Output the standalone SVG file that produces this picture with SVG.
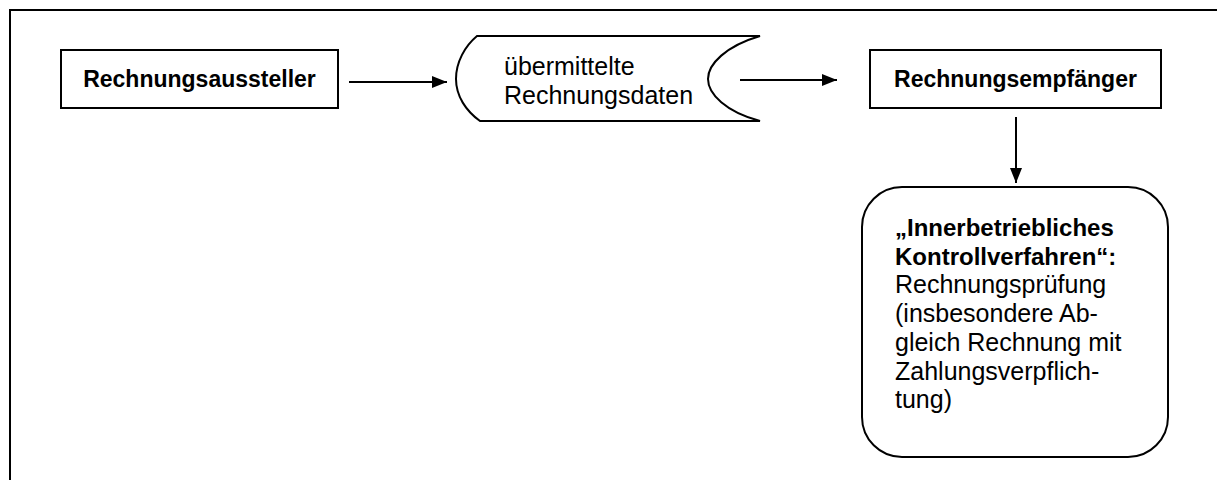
<svg xmlns="http://www.w3.org/2000/svg" width="1217" height="480" viewBox="0 0 1217 480">
  <style>
    .frame { fill: none; stroke: #000; stroke-width: 2; }
    .node { fill: #fff; stroke: #000; stroke-width: 2; }
    .b { font-family: "Liberation Sans", Arial, sans-serif; font-weight: bold; font-size: 23px; fill: #000; }
    .bb { font-family: "Liberation Sans", Arial, sans-serif; font-weight: bold; font-size: 24px; fill: #000; }
    .r { font-family: "Liberation Sans", Arial, sans-serif; font-size: 25px; fill: #000; }
    .conn { fill: none; stroke: #000; stroke-width: 2; }
  </style>
  <defs>
    <marker id="arrow" viewBox="0 0 15 12" refX="15" refY="6" markerWidth="15" markerHeight="12" markerUnits="userSpaceOnUse" orient="auto">
      <path d="M0,0 L15,6 L0,12 Z" fill="#000"/>
    </marker>
  </defs>
  <rect width="1217" height="480" fill="#fff"/>
  <rect class="frame" x="10" y="10" width="1230" height="500"/>

  <g id="rechnungsaussteller">
    <rect class="node" x="61" y="50" width="277" height="58"/>
    <text class="b" x="199.5" y="87" text-anchor="middle">Rechnungsaussteller</text>
  </g>

  <g id="rechnungsdaten">
    <path class="node" d="M477,36 L760,36 C726,46 708,64 708,79 C708,94 726,112 760,121 L480,121 C466,111 456,96 456,79 C456,62 465,46 477,36 Z"/>
    <text class="r" x="504" y="75">übermittelte</text>
    <text class="r" x="504" y="104">Rechnungsdaten</text>
  </g>

  <g id="rechnungsempfaenger">
    <rect class="node" x="870" y="50" width="291" height="58"/>
    <text class="b" x="1015.5" y="87" text-anchor="middle">Rechnungsempfänger</text>
  </g>

  <g id="kontrollverfahren">
    <rect class="node" x="862" y="187" width="306" height="270" rx="40" ry="40"/>
    <text class="bb" x="895" y="236">„Innerbetriebliches</text>
    <text class="bb" x="895" y="264.5">Kontrollverfahren“:</text>
    <text class="r" x="895" y="293">Rechnungsprüfung</text>
    <text class="r" x="895" y="322">(insbesondere Ab-</text>
    <text class="r" x="895" y="350.5">gleich Rechnung mit</text>
    <text class="r" x="895" y="379.5">Zahlungsverpflich-</text>
    <text class="r" x="895" y="408">tung)</text>
  </g>

  <g id="connectors">
    <line class="conn" x1="349" y1="82" x2="447" y2="82" marker-end="url(#arrow)"/>
    <line class="conn" x1="740" y1="80" x2="837" y2="80" marker-end="url(#arrow)"/>
    <line class="conn" x1="1016" y1="117" x2="1016" y2="183" marker-end="url(#arrow)"/>
  </g>
</svg>
